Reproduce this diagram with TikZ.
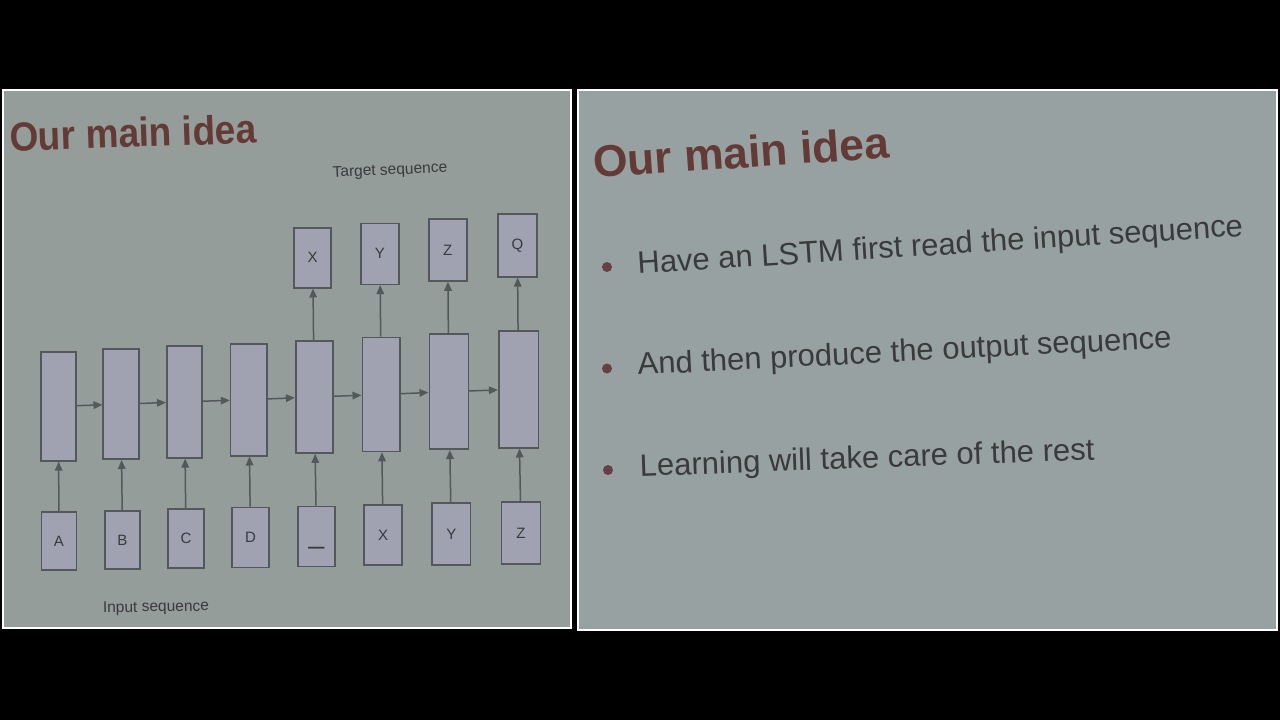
\documentclass[tikz,border=0pt]{standalone}
\usepackage{fontspec}
\setmainfont{Liberation Sans}
\usepackage{xcolor}
\usetikzlibrary{arrows.meta,positioning}

\definecolor{slideleft}{HTML}{959D9B}
\definecolor{slideright}{HTML}{98A1A1}
\definecolor{boxfill}{HTML}{A0A1B1}
\definecolor{boxline}{HTML}{53585A}
\definecolor{ink}{HTML}{393A3C}
\definecolor{titlered}{HTML}{643A36}
\definecolor{dotc}{HTML}{664045}

\begin{document}
\begin{tikzpicture}[x=1pt,y=-1pt,
    tok/.style={draw=boxline,fill=boxfill,line width=1.6pt,inner sep=0pt,minimum width=37pt,minimum height=60pt,text=ink,font=\fontsize{15}{15}\selectfont},
    cell/.style={tok,minimum height=112pt},
    link/.style={line width=1.5pt,color=boxline,-{Triangle[length=9pt,width=7.5pt]}},
    dot/.style={circle,fill=dotc,inner sep=0pt,minimum size=10pt}]

    \fill[black] (0,0) rectangle (1280,720);
    \useasboundingbox (0,0) rectangle (1280,720);

    % slides
    \filldraw[fill=slideleft,draw=white,line width=2pt] (3,90) rectangle (571,628);
    \filldraw[fill=slideright,draw=white,line width=2pt] (578,90) rectangle (1277,630);

    \node[anchor=base west,inner sep=0pt,rotate=2,yscale=1.1,text=titlered,font=\fontsize{37}{40}\selectfont\bfseries] (titleL) at (10,151.5) {Our main idea};

    %input nodes
    \node[tok,minimum width=35pt,minimum height=58pt] (inA) at (59,541) {A};
    \node[tok,minimum width=35pt,minimum height=58pt] (inB) at (122.5,540) {B};
    \node[tok,minimum width=36pt,minimum height=59pt] (inC) at (186,538.5) {C};
    \node[tok] (inD) at (250.5,537.5) {D};
    \node[tok,font=\fontsize{28}{28}\selectfont] (inGo) at (316.5,536.5) {\vphantom{X}\_};
    \node[tok,minimum width=38pt] (inX) at (383,535) {X};
    \node[tok,minimum width=38.5pt,minimum height=62pt] (inY) at (451.3,534) {Y};
    \node[tok,minimum width=39pt,minimum height=62pt] (inZ) at (521,533) {Z};

    %lstm cells
    \node[cell,minimum width=35pt,minimum height=109pt] (h1) at (58.4,406.3) {};
    \node[cell,minimum width=35.5pt,minimum height=110pt] (h2) at (121,404.2) {};
    \node[cell,minimum width=35.5pt] (h3) at (184.5,401.8) {};
    \node[cell,minimum width=36.3pt] (h4) at (248.8,399.7) {};
    \node[cell] (h5) at (314.2,397) {};
    \node[cell,minimum width=37.7pt,minimum height=114pt] (h6) at (381.2,394.5) {};
    \node[cell,minimum width=39pt,minimum height=115pt] (h7) at (448.8,391.7) {};
    \node[cell,minimum width=39.6pt,minimum height=117pt] (h8) at (518.5,389.2) {};

    %output nodes
    \node[tok] (outX) at (312.7,257.7) {X};
    \node[tok,minimum width=37.7pt,minimum height=61pt] (outY) at (379.9,253.8) {Y};
    \node[tok,minimum width=38pt,minimum height=62pt] (outZ) at (447.7,250) {Z};
    \node[tok,minimum width=38.7pt,minimum height=62.7pt] (outQ) at (517.4,245.4) {Q};

    %arrows
    \draw[link] (inA) -- (h1);
    \draw[link] (inB) -- (h2);
    \draw[link] (inC) -- (h3);
    \draw[link] (inD) -- (h4);
    \draw[link] (inGo) -- (h5);
    \draw[link] (inX) -- (h6);
    \draw[link] (inY) -- (h7);
    \draw[link] (inZ) -- (h8);

    \draw[link] (h1) -- (h2);
    \draw[link] (h2) -- (h3);
    \draw[link] (h3) -- (h4);
    \draw[link] (h4) -- (h5);
    \draw[link] (h5) -- (h6);
    \draw[link] (h6) -- (h7);
    \draw[link] (h7) -- (h8);

    \draw[link] (h5) -- (outX);
    \draw[link] (h6) -- (outY);
    \draw[link] (h7) -- (outZ);
    \draw[link] (h8) -- (outQ);

    \node[rotate=2.5,text=ink,font=\fontsize{15.5}{16}\selectfont] (target) at (390,171) {Target sequence};
    \node[rotate=1,text=ink,font=\fontsize{15.5}{16}\selectfont] (input) at (156,608) {Input sequence};

    %right slide
    \node[anchor=base west,inner sep=0pt,rotate=3.9,text=titlered,font=\fontsize{44.5}{48}\selectfont\bfseries] (titleR) at (594,178) {Our main idea};

    \node[dot] (b1) at (607,267) {};
    \node[dot] (b2) at (607,368.5) {};
    \node[dot] (b3) at (608,470) {};

    \node[anchor=base west,inner sep=0pt,rotate=3.6,text=ink,font=\fontsize{31}{32}\selectfont] (t1) at (638,274) {Have an LSTM first read the input sequence};
    \node[anchor=base west,inner sep=0pt,rotate=2.9,text=ink,font=\fontsize{31}{32}\selectfont] (t2) at (638,375) {And then produce the output sequence};
    \node[anchor=base west,inner sep=0pt,rotate=2.1,text=ink,font=\fontsize{31}{32}\selectfont] (t3) at (640,476.5) {Learning will take care of the rest};
\end{tikzpicture}
\end{document}
